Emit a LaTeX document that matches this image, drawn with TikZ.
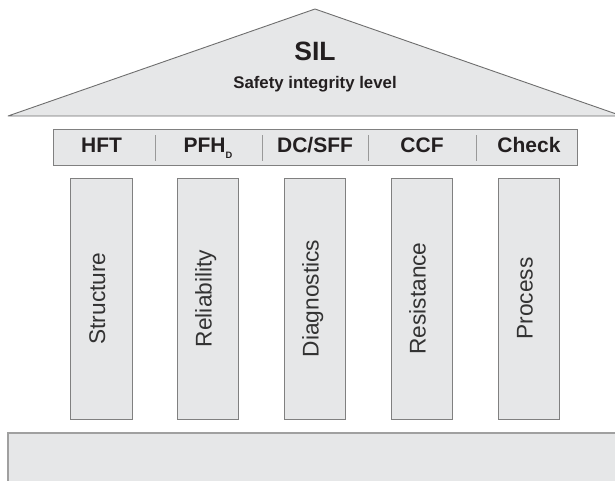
\documentclass[tikz,border=0pt]{standalone}
\usepackage{fontspec}
\setmainfont{Liberation Sans}
\definecolor{partfill}{HTML}{E6E7E8}
\definecolor{partline}{HTML}{808080}
\definecolor{roofline}{HTML}{6E6E6E}
\definecolor{plinthline}{HTML}{A0A0A0}
\definecolor{textdark}{HTML}{231F20}
\definecolor{textgray}{HTML}{333333}
\begin{document}
\begin{tikzpicture}
[
    x=1pt, y=-1pt,
    part/.style={draw=partline, fill=partfill, line width=0.9pt},
    pillar/.style={part, rotate=90, minimum width=241pt, minimum height=61.5pt, inner sep=0pt,
        font=\fontsize{22.7}{24}\selectfont, text=textgray, text height=0.72em, text depth=0pt},
    factor/.style={font=\bfseries\fontsize{21}{24}\selectfont, text=textdark, inner sep=0pt,
        text height=0.72em, text depth=0pt},
    divider/.style={draw=partline!80, line width=0.9pt},
    plinth/.style={draw=plinthline, line width=1.6pt}
]
    \useasboundingbox (0,0) rectangle (615,480);
    \clip (0,0) rectangle (615,480);
    \draw [draw=roofline, fill=partfill, line width=0.9pt, line join=round]
        (8,116) coordinate (eaveL) -- (315,9) coordinate (apex) -- (622,116) coordinate (eaveR) -- cycle;
    \node [font=\bfseries\fontsize{26.5}{28}\selectfont, text=textdark, inner sep=0pt,
        text height=0.72em, text depth=0pt] (sil) at (315,57.2) {SIL};
    \node [font=\bfseries\fontsize{16.8}{18}\selectfont, text=textdark, inner sep=0pt,
        text height=0.72em, text depth=0pt] (silname) at (315,85) {Safety integrity level};
    \node [part, minimum width=524pt, minimum height=36pt, inner sep=0pt] (header) at (315,147) {};
    \node [factor] (hft) at (101.5,149) {HFT};
    \node [factor] (pfh) at (208,149) {PFH\raisebox{-6pt}{\fontsize{9.3}{10}\selectfont D}};
    \node [factor] (dcsff) at (315,149) {DC/SFF};
    \node [factor] (ccf) at (422,149) {CCF};
    \node [factor] (check) at (529,149) {Check};
    \draw [divider] (155,135) -- (155,161);
    \draw [divider] (262,135) -- (262,161);
    \draw [divider] (368,135) -- (368,161);
    \draw [divider] (476,135) -- (476,161);
    \node [pillar] (structure) at (101.5,298.5) {Structure};
    \node [pillar] (reliability) at (208,298.5) {Reliability};
    \node [pillar] (diagnostics) at (315,298.5) {Diagnostics};
    \node [pillar] (resistance) at (422,298.5) {Resistance};
    \node [pillar] (process) at (529,298.5) {Process};
    \fill [partfill] (8,433) rectangle (622,490);
    \draw [plinth] (8,490) -- (8,433) -- (622,433);
\end{tikzpicture}
\end{document}
